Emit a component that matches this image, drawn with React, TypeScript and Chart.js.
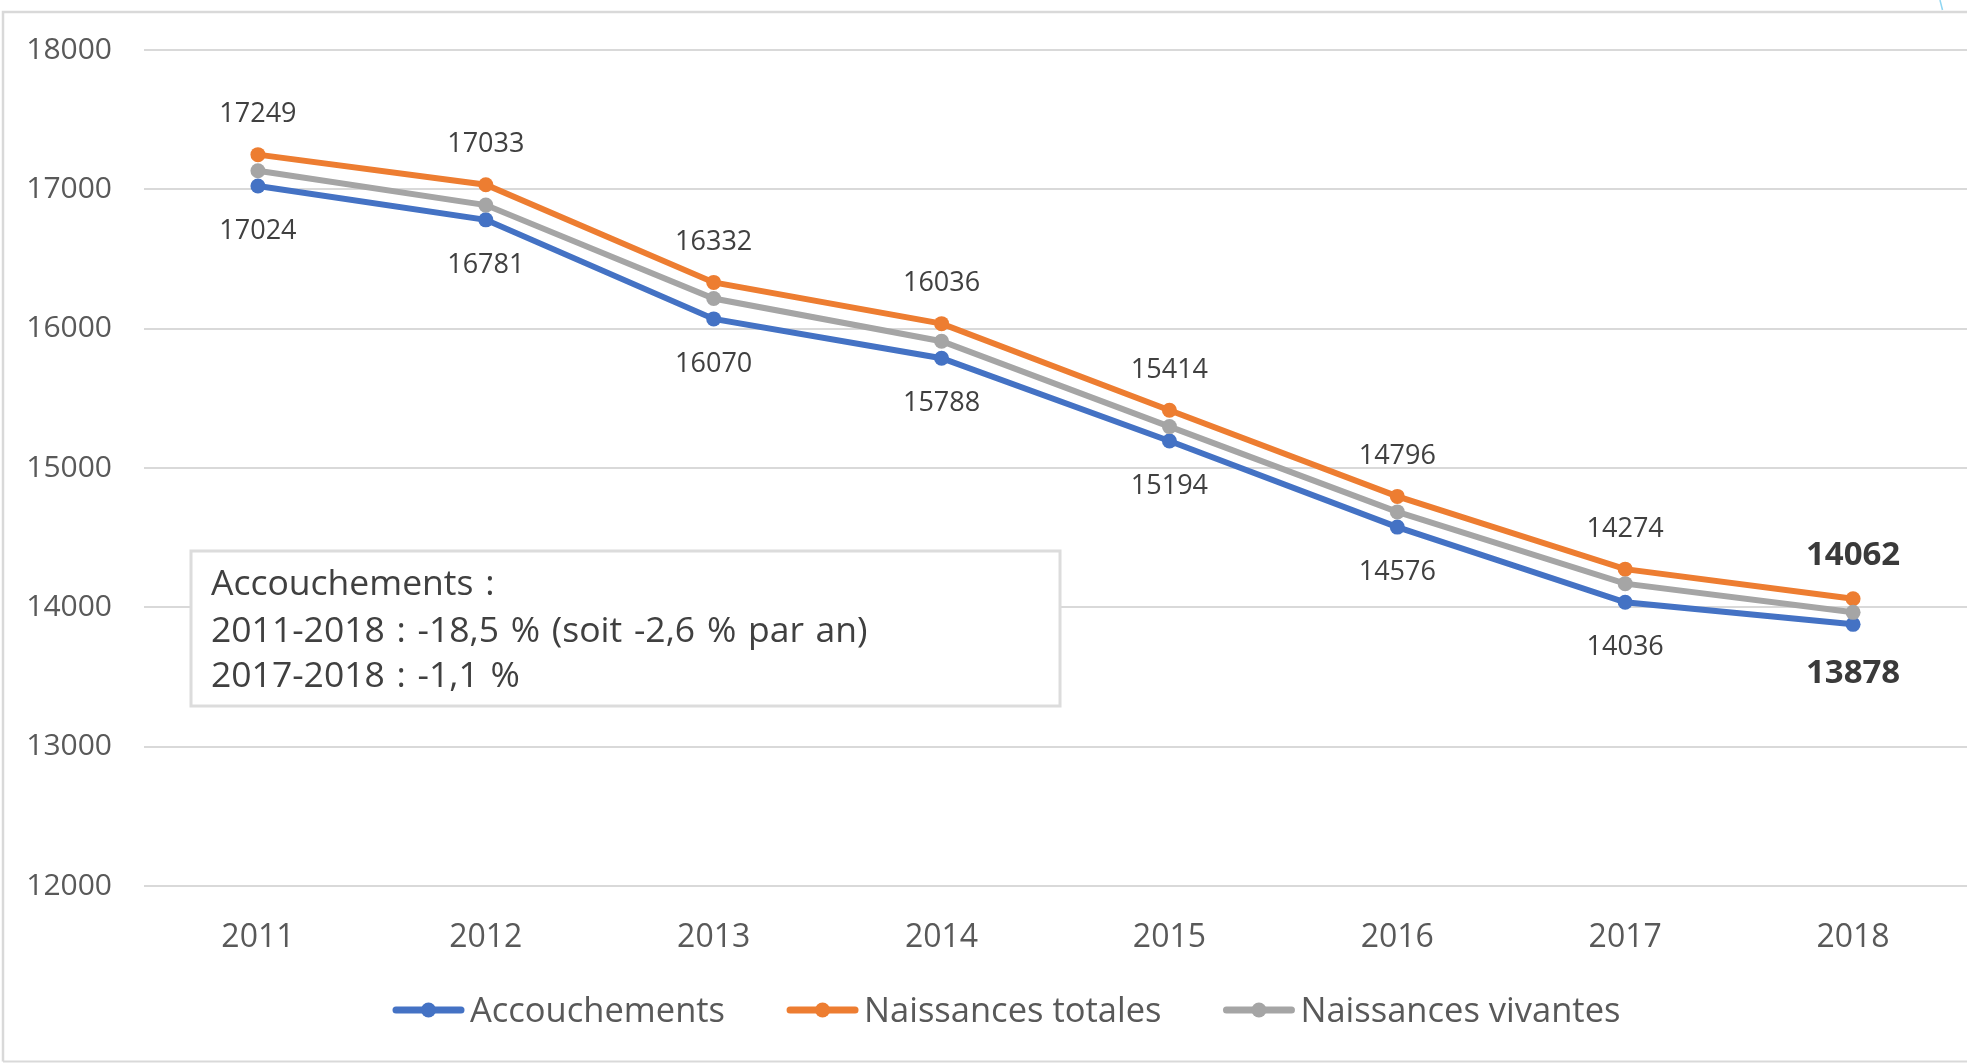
import React, { useEffect, useRef } from 'react';
import { Chart, registerables } from 'chart.js';

Chart.register(...registerables);

const categories = ['2011', '2012', '2013', '2014', '2015', '2016', '2017', '2018'];
const accouchements = [17024, 16781, 16070, 15788, 15194, 14576, 14036, 13878];
const naissancesTotales = [17249, 17033, 16332, 16036, 15414, 14796, 14274, 14062];
const naissancesVivantes = [17133, 16887, 16216, 15910, 15297, 14685, 14170, 13964];
const seriesNames = ['Accouchements', 'Naissances totales', 'Naissances vivantes'];
const seriesColors = ['#4472C4', '#ED7D31', '#A5A5A5'];
const yMin = 12000;
const yMax = 18000;
const yStep = 1000;
const noteLines = [
  'Accouchements :',
  '2011-2018 : -18,5 % (soit -2,6 % par an)',
  '2017-2018 : -1,1 %',
];

const FONT = '"Open Sans", "Noto Sans", sans-serif';
const W = 1967;
const H = 1063;

const framePlugin = {
  id: 'frame',
  beforeDraw(chart: any) {
    const ctx = chart.ctx;
    ctx.save();
    ctx.fillStyle = '#ffffff';
    ctx.fillRect(0, 0, chart.width, chart.height);
    ctx.strokeStyle = '#d9d9d9';
    ctx.lineWidth = 2.5;
    ctx.beginPath();
    ctx.moveTo(3, chart.height - 1.5);
    ctx.lineTo(3, 12);
    ctx.lineTo(chart.width, 12);
    ctx.stroke();
    ctx.lineWidth = 2;
    ctx.beginPath();
    ctx.moveTo(3, chart.height - 1.5);
    ctx.lineTo(chart.width, chart.height - 1.5);
    ctx.stroke();
    ctx.strokeStyle = '#8fd6f2';
    ctx.lineWidth = 1.5;
    ctx.beginPath();
    ctx.moveTo(1940, 0);
    ctx.lineTo(1942.5, 10);
    ctx.stroke();
    ctx.restore();
  },
};

const labelPlugin = {
  id: 'valueLabels',
  afterDatasetsDraw(chart: any) {
    const ctx = chart.ctx;
    ctx.save();
    ctx.textAlign = 'center';
    ctx.textBaseline = 'middle';
    const specs = [
      { ds: 0, dir: 1 },
      { ds: 1, dir: -1 },
    ];
    specs.forEach(({ ds, dir }) => {
      const meta = chart.getDatasetMeta(ds);
      const data = chart.data.datasets[ds].data as number[];
      meta.data.forEach((pt: any, i: number) => {
        const last = i === data.length - 1;
        ctx.fillStyle = last ? '#3a3a3a' : '#404040';
        ctx.font = last ? `bold 33px ${FONT}` : `27px ${FONT}`;
        const off = last ? (dir > 0 ? 49 : -43) : dir > 0 ? 45 : -40;
        ctx.fillText(String(data[i]), pt.x, pt.y + off);
      });
    });
    ctx.restore();
  },
};

const overlayPlugin = {
  id: 'overlay',
  afterDraw(chart: any) {
    const ctx = chart.ctx;
    ctx.save();
    // note box
    const bx = 191, by = 551, bw = 869, bh = 155;
    ctx.fillStyle = '#ffffff';
    ctx.fillRect(bx, by, bw, bh);
    ctx.strokeStyle = '#dcdcdc';
    ctx.lineWidth = 3;
    ctx.strokeRect(bx, by, bw, bh);
    ctx.fillStyle = '#404040';
    ctx.font = `35.5px ${FONT}`;
    try {
      (ctx as any).wordSpacing = '2.5px';
    } catch (e) {}
    ctx.textAlign = 'left';
    ctx.textBaseline = 'alphabetic';
    const baselines = [595, 642, 687];
    noteLines.forEach((t, i) => ctx.fillText(t, 211, baselines[i]));
    try {
      (ctx as any).wordSpacing = '0px';
    } catch (e) {}

    // legend
    ctx.font = `34.5px ${FONT}`;
    const lineW = 71;
    const gapText = 6;
    const itemGap = 62;
    const cy = 1010;
    let x = 393;
    seriesNames.forEach((name, i) => {
      ctx.strokeStyle = seriesColors[i];
      ctx.lineWidth = 7;
      ctx.lineCap = 'round';
      ctx.beginPath();
      ctx.moveTo(x + 3, cy);
      ctx.lineTo(x + lineW - 3, cy);
      ctx.stroke();
      ctx.fillStyle = seriesColors[i];
      ctx.beginPath();
      ctx.arc(x + lineW / 2, cy, 7.5, 0, Math.PI * 2);
      ctx.fill();
      ctx.fillStyle = '#595959';
      ctx.fillText(name, x + lineW + gapText, 1022);
      x += lineW + gapText + ctx.measureText(name).width + itemGap;
    });
    ctx.restore();
  },
};

export default function App() {
  const ref = useRef<HTMLCanvasElement | null>(null);

  useEffect(() => {
    if (!ref.current) return;
    const values = [accouchements, naissancesTotales, naissancesVivantes];
    const orders = [2, 1, 0];
    const chart = new Chart(ref.current, {
      type: 'line',
      data: {
        labels: categories,
        datasets: values.map((v, i) => ({
          label: seriesNames[i],
          data: v,
          borderColor: seriesColors[i],
          backgroundColor: seriesColors[i],
          pointBackgroundColor: seriesColors[i],
          pointBorderColor: seriesColors[i],
          pointBorderWidth: 0,
          pointRadius: 7.5,
          pointHoverRadius: 7.5,
          borderWidth: 6,
          tension: 0,
          fill: false,
          order: orders[i],
        })),
      },
      options: {
        responsive: false,
        maintainAspectRatio: false,
        animation: false,
        devicePixelRatio: 1,
        layout: { autoPadding: false, padding: { left: 0, right: 0, top: 50, bottom: 77 } },
        plugins: {
          legend: { display: false },
          tooltip: { enabled: false },
        },
        scales: {
          x: {
            offset: true,
            grid: { display: false },
            border: { display: false },
            ticks: {
              font: { family: FONT, size: 32 },
              color: '#595959',
              padding: 25,
              maxRotation: 0,
            },
            afterFit: (s: any) => {
              s.height = 100;
              s.paddingLeft = 0;
              s.paddingRight = 0;
            },
          },
          y: {
            min: yMin,
            max: yMax,
            ticks: {
              stepSize: yStep,
              font: { family: FONT, size: 30 },
              color: '#595959',
              padding: 32,
              callback: (v: any) => String(v),
            },
            grid: { color: '#d9d9d9', lineWidth: 2, drawTicks: false },
            border: { display: false },
            afterFit: (s: any) => {
              s.width = 144;
            },
          },
        },
      },
      plugins: [framePlugin, labelPlugin, overlayPlugin],
    });
    return () => chart.destroy();
  }, []);

  return (
    <div style={{ position: 'fixed', left: 0, top: 0, width: W, height: H, background: '#fff' }}>
      <canvas ref={ref} width={W} height={H} style={{ width: W, height: H, display: 'block' }} />
    </div>
  );
}
